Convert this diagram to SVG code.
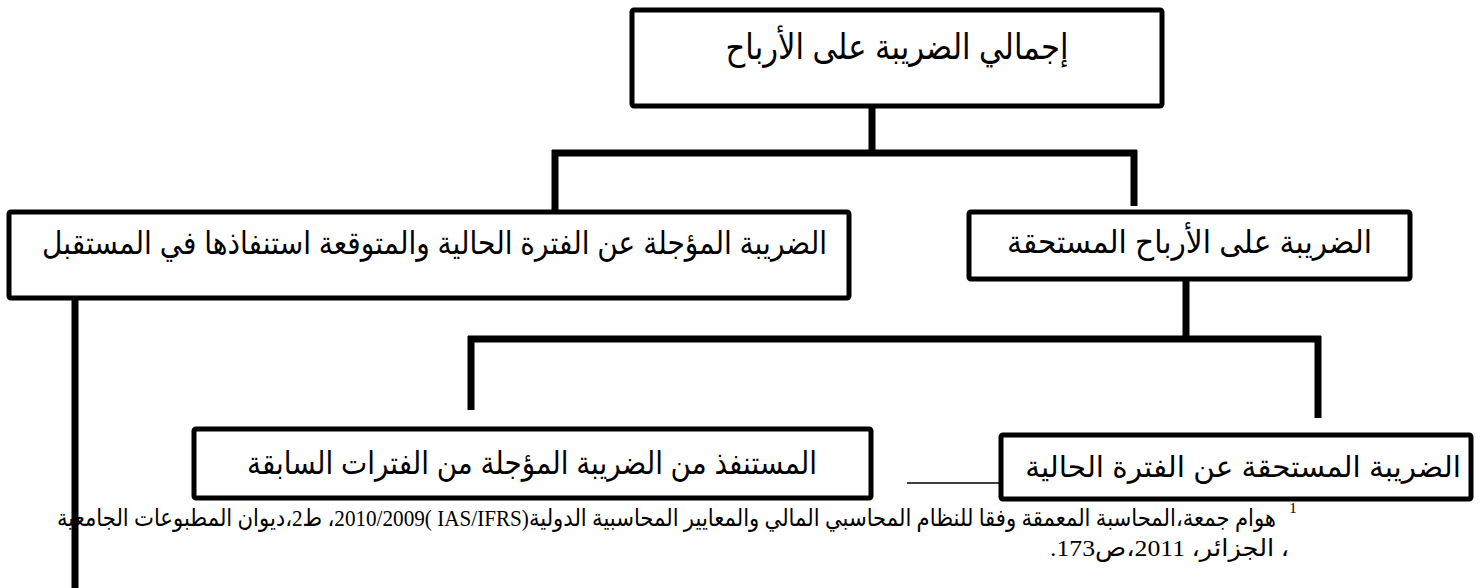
<svg xmlns="http://www.w3.org/2000/svg" width="1482" height="588" viewBox="0 0 1482 588">
<style>
.box{fill:#fff;stroke:#000;stroke-width:5;stroke-linejoin:round}
.lbl{font-family:"Liberation Sans","DejaVu Sans",sans-serif;font-size:32px;fill:#000;text-anchor:middle;direction:rtl}
.big{font-size:35px}
.mid{font-size:29.5px}
.con{stroke:#000;stroke-width:7;fill:none;stroke-linecap:butt}
.thin{stroke:#000;stroke-width:1.6;fill:none}
.fn{font-family:"Liberation Serif","DejaVu Sans",serif;font-size:24px;fill:#000;text-anchor:middle;direction:rtl}
.sup{font-size:15px}
</style>
<rect width="1482" height="588" fill="#fff"/>
<g id="connectors">
<line class="con" x1="872" y1="106" x2="872" y2="153"/>
<line class="con" x1="552" y1="153" x2="1137" y2="153"/>
<line class="con" x1="555" y1="150" x2="555" y2="212"/>
<line class="con" x1="1134" y1="150" x2="1134" y2="206"/>
<line class="con" x1="1186" y1="279" x2="1186" y2="339"/>
<line class="con" x1="468" y1="339" x2="1321" y2="339"/>
<line class="con" x1="471" y1="336" x2="471" y2="410"/>
<line class="con" x1="1318" y1="336" x2="1318" y2="418"/>
<line class="con" x1="75" y1="298" x2="75" y2="588"/>
<line class="thin" x1="907" y1="483" x2="1001" y2="483"/>
</g>
<g id="node-total">
<rect class="box" x="632" y="10" width="530" height="96" rx="2"/>
<text class="lbl big" x="897" y="59" textLength="343" lengthAdjust="spacingAndGlyphs">إجمالي الضريبة على الأرباح</text>
</g>
<g id="node-deferred">
<rect class="box" x="9" y="212" width="840" height="86" rx="2"/>
<text class="lbl" x="434.5" y="254" textLength="785" lengthAdjust="spacingAndGlyphs">الضريبة المؤجلة عن الفترة الحالية والمتوقعة استنفاذها في المستقبل</text>
</g>
<g id="node-due">
<rect class="box" x="969" y="212" width="441" height="67" rx="2"/>
<text class="lbl" x="1189.5" y="253" textLength="365" lengthAdjust="spacingAndGlyphs">الضريبة على الأرباح المستحقة</text>
</g>
<g id="node-used">
<rect class="box" x="194" y="429" width="677" height="69" rx="2"/>
<text class="lbl" x="532" y="474" textLength="570" lengthAdjust="spacingAndGlyphs">المستنفذ من الضريبة المؤجلة من الفترات السابقة</text>
</g>
<g id="node-current">
<rect class="box" x="1001" y="435" width="470" height="64" rx="2"/>
<text class="lbl mid" x="1243" y="477">الضريبة المستحقة عن الفترة الحالية</text>
</g>
<g id="footnote">
<text class="fn sup" x="1293" y="513">1</text>
<text class="fn" x="666.5" y="526" textLength="1219" lengthAdjust="spacingAndGlyphs">هوام جمعة،المحاسبة المعمقة وفقا للنظام المحاسبي المالي والمعايير المحاسبية الدولية(IAS/IFRS&#x200F; )&#x200F;2010/2009، ط2،ديوان المطبوعات الجامعية</text>
<text class="fn" x="1169.5" y="556" textLength="239" lengthAdjust="spacingAndGlyphs">، الجزائر،  2011،ص173.</text>
</g>
</svg>
